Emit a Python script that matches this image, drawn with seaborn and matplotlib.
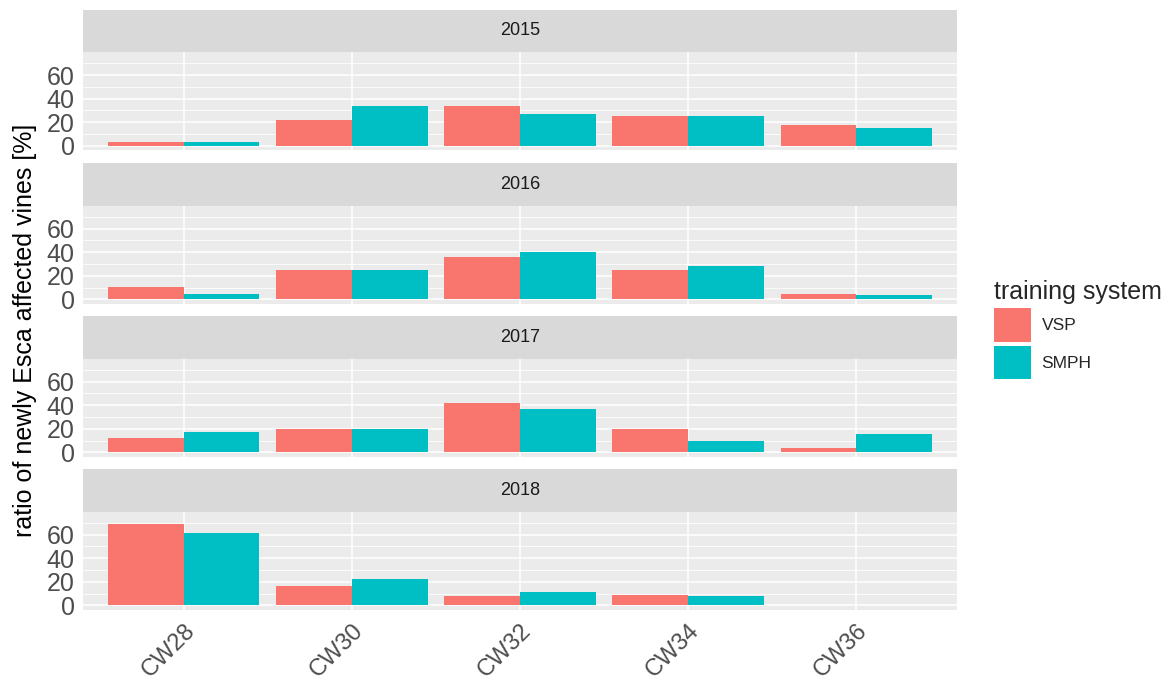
import numpy as np
import pandas as pd
import seaborn as sns
import matplotlib.pyplot as plt
from matplotlib.patches import Patch
from matplotlib.ticker import MultipleLocator

# DATA
weeks = ['CW28', 'CW30', 'CW32', 'CW34', 'CW36']
years = ['2015', '2016', '2017', '2018']
systems = ['VSP', 'SMPH']

vsp_2015 = [3.5, 22, 34, 25, 18]
smph_2015 = [3.5, 34, 27, 25, 15]
vsp_2016 = [10.5, 25, 36, 25, 4.5]
smph_2016 = [4.5, 25, 40.5, 28, 3.5]
vsp_2017 = [12.5, 20, 41.5, 20, 3.5]
smph_2017 = [17, 20, 37, 10, 15.5]
vsp_2018 = [69, 16.5, 8, 9, 0]
smph_2018 = [61, 22, 11, 8, 0]

vsp_values = [vsp_2015, vsp_2016, vsp_2017, vsp_2018]
smph_values = [smph_2015, smph_2016, smph_2017, smph_2018]

rows = []
for y, v_list, s_list in zip(years, vsp_values, smph_values):
    for w, v, s in zip(weeks, v_list, s_list):
        rows.append({'year': y, 'week': w, 'system': 'VSP', 'ratio': v})
        rows.append({'year': y, 'week': w, 'system': 'SMPH', 'ratio': s})
df = pd.DataFrame(rows)

# STYLE
sns.set_style('white')
plt.rcParams['font.family'] = ['Liberation Sans', 'DejaVu Sans']

palette = {'VSP': '#F8766D', 'SMPH': '#00BFC4'}

W, H = 1170, 689
fig = plt.figure(figsize=(W / 100, H / 100), dpi=100)

left_px, right_px = 83, 957
strip_top = [9.5, 163, 316, 469]
strip_h = 42.5
panel_h = 98

for i, yr in enumerate(years):
    st = strip_top[i]
    # strip
    sax = fig.add_axes([left_px / W, 1 - (st + strip_h) / H,
                        (right_px - left_px) / W, strip_h / H])
    sax.set_facecolor('#D9D9D9')
    sax.set_xticks([])
    sax.set_yticks([])
    for sp in sax.spines.values():
        sp.set_visible(False)
    sax.text(0.5, 0.5, yr, ha='center', va='center', fontsize=13,
             color='#1A1A1A', transform=sax.transAxes)

    # panel
    pt = st + strip_h
    ax = fig.add_axes([left_px / W, 1 - (pt + panel_h) / H,
                       (right_px - left_px) / W, panel_h / H])
    ax.set_facecolor('#EBEBEB')
    sns.barplot(data=df[df['year'] == yr], x='week', y='ratio',
                hue='system', hue_order=systems, order=weeks,
                palette=palette, width=0.9, gap=0, linewidth=0,
                saturation=1, legend=False, ax=ax)
    ax.set_xlim(-0.6, 4.6)
    ax.set_ylim(-3.5, 79.5)
    ax.yaxis.set_major_locator(MultipleLocator(20))
    ax.yaxis.set_minor_locator(MultipleLocator(10))
    ax.set_yticks([0, 20, 40, 60])
    ax.grid(axis='y', which='major', color='white', linewidth=1.1)
    ax.grid(axis='y', which='minor', color='white', linewidth=0.55)
    ax.grid(axis='x', which='major', color='white', linewidth=1.1)
    ax.set_axisbelow(True)
    for sp in ax.spines.values():
        sp.set_visible(False)
    ax.set_xlabel('')
    ax.set_ylabel('')
    ax.tick_params(axis='y', which='major', length=4, width=1.1,
                   color='#333333', labelsize=18, labelcolor='#4D4D4D', pad=2)
    ax.tick_params(axis='y', which='minor', length=0)
    if i < 3:
        ax.tick_params(axis='x', length=0, labelbottom=False)
    else:
        ax.tick_params(axis='x', length=4, width=1.1, color='#333333',
                       labelsize=17, labelcolor='#4D4D4D', pad=3)
        for lab in ax.get_xticklabels():
            lab.set_rotation(45)
            lab.set_ha('right')
            lab.set_rotation_mode('anchor')

fig.text(0.021, 0.521, 'ratio of newly Esca affected vines [%]',
         rotation=90, ha='center', va='center', fontsize=18, color='black')

handles = [Patch(facecolor=palette[s], edgecolor='none') for s in systems]
leg = fig.legend(handles, systems, title='training system',
                 loc='upper left', bbox_to_anchor=(0.836, 0.616),
                 frameon=False, fontsize=12.5, title_fontsize=18,
                 handlelength=2.13, handleheight=2.6, handletextpad=0.63,
                 labelspacing=0.23)
leg._legend_box.align = 'left'

plt.savefig('out.png', dpi=100)
